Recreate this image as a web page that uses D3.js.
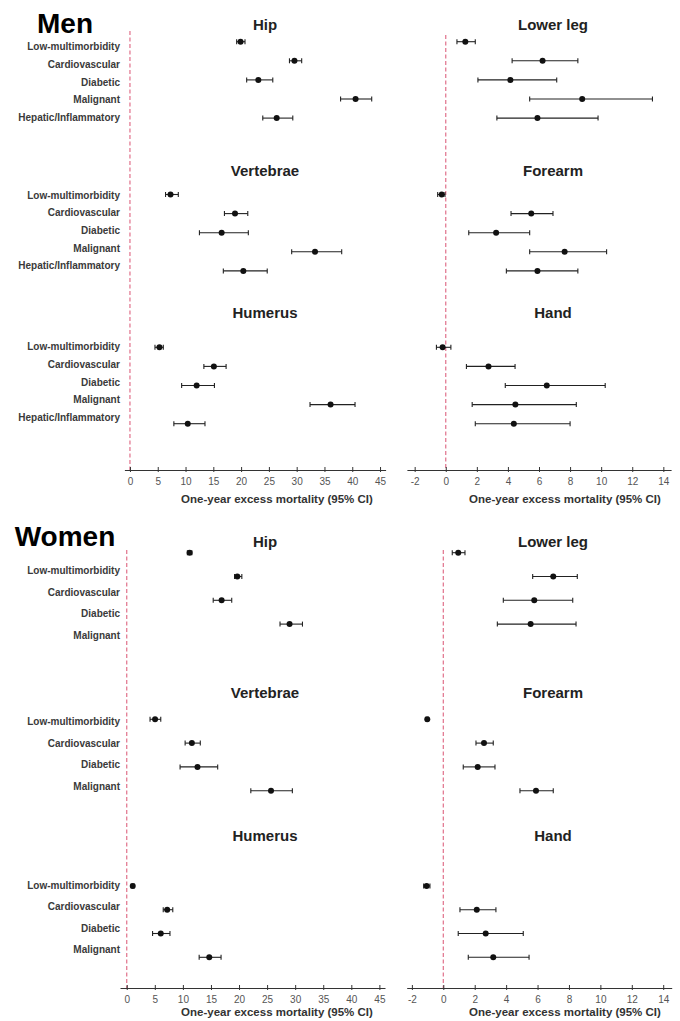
<!DOCTYPE html>
<html lang="en">
<head>
  <meta charset="UTF-8">
  <title>One-year excess mortality by fracture site and multimorbidity cluster</title>
  <script src="https://d3js.org/d3.v7.min.js"></script>
  <style>
    body {
      margin: 0;
      background: #fff;
      font-family: "Liberation Sans", Arial, sans-serif;
    }

    .sex-title {
      font-size: 28px;
      font-weight: bold;
      fill: #000;
    }

    .site-title {
      font-size: 15px;
      font-weight: bold;
      fill: #222;
    }

    .row-label {
      font-size: 10px;
      font-weight: bold;
      fill: #3a3a3a;
    }

    .ci {
      stroke: #222;
      stroke-width: 1.1px;
    }

    .ref {
      stroke: #e0708a;
      stroke-width: 1.2px;
      stroke-dasharray: 4 2.5;
    }

    .axis-title {
      font-size: 11.5px;
      font-weight: bold;
      fill: #333;
    }
  </style>
</head>
<body>
  <div id="chart"></div>

  <script>
    // each row: [estimate, lower 95% CI, upper 95% CI]
    const menGroups = ["Low-multimorbidity", "Cardiovascular", "Diabetic", "Malignant", "Hepatic/Inflammatory"];
    const womenGroups = ["Low-multimorbidity", "Cardiovascular", "Diabetic", "Malignant"];

    const leftSites = ["Hip", "Vertebrae", "Humerus"];
    const rightSites = ["Lower leg", "Forearm", "Hand"];

    const leftTicks = [0, 5, 10, 15, 20, 25, 30, 35, 40, 45];
    const rightTicks = [-2, 0, 2, 4, 6, 8, 10, 12, 14];

    const menHip = [[19.9, 19.2, 20.7], [29.6, 28.7, 30.9], [23.1, 21.0, 25.7], [40.6, 37.9, 43.5], [26.4, 23.9, 29.3]];
    const menVertebrae = [[7.3, 6.4, 8.7], [18.9, 17.0, 21.2], [16.5, 12.5, 21.3], [33.3, 29.1, 38.1], [20.4, 16.8, 24.7]];
    const menHumerus = [[5.3, 4.5, 6.0], [15.1, 13.3, 17.3], [12.0, 9.3, 15.2], [36.1, 32.4, 40.5], [10.4, 7.9, 13.5]];
    const menLowerLeg = [[1.26, 0.72, 1.9], [6.23, 4.27, 8.5], [4.16, 2.07, 7.14], [8.78, 5.4, 13.3], [5.9, 3.29, 9.8]];
    const menForearm = [[-0.26, -0.52, -0.05], [5.5, 4.2, 6.9], [3.24, 1.48, 5.4], [7.65, 5.4, 10.35], [5.9, 3.9, 8.5]];
    const menHand = [[-0.2, -0.6, 0.33], [2.75, 1.33, 4.46], [6.5, 3.83, 10.26], [4.48, 1.7, 8.4], [4.38, 1.9, 8.0]];

    const womenHip = [[11.2, 10.8, 11.6], [19.7, 19.2, 20.5], [16.9, 15.4, 18.7], [29.0, 27.3, 31.3]];
    const womenVertebrae = [[5.05, 4.15, 6.06], [11.6, 10.4, 13.1], [12.6, 9.5, 16.2], [25.7, 22.1, 29.5]];
    const womenHumerus = [[1.07, 0.8, 1.3], [7.2, 6.5, 8.2], [6.06, 4.6, 7.7], [14.7, 12.9, 16.8]];
    const womenLowerLeg = [[0.95, 0.57, 1.38], [7.0, 5.69, 8.53], [5.79, 3.82, 8.24], [5.56, 3.44, 8.45]];
    const womenForearm = [[-1.02, -1.1, -0.95], [2.59, 2.08, 3.18], [2.19, 1.27, 3.29], [5.9, 4.88, 7.0]];
    const womenHand = [[-1.06, -1.25, -0.85], [2.13, 1.06, 3.35], [2.7, 0.95, 5.09], [3.18, 1.59, 5.46]];

    const axisTitle = "One-year excess mortality (95% CI)";

    // layout of the two blocks
    const blocks = [
      {
        name: "Men", nameX: 65, nameY: 33,
        groups: menGroups, left: [menHip, menVertebrae, menHumerus], right: [menLowerLeg, menForearm, menHand],
        rowTop: 41.7, rowBottom: 423.7,
        titleY: [25, 171, 313],
        labelY: [46.7, 195, 346.7], labelStep: 17.7,
        dashTop: [31, 35], axisY: 470, axisTitleDy: 29,
        leftDomain: [-1, 46], leftRange: [124.4, 385.6],
        rightDomain: [-2.5, 14.5], rightRange: [406.9, 671.1]
      },
      {
        name: "Women", nameX: 65, nameY: 546,
        groups: womenGroups, left: [womenHip, womenVertebrae, womenHumerus], right: [womenLowerLeg, womenForearm, womenHand],
        rowTop: 552.7, rowBottom: 957.3,
        titleY: [541.7, 692.7, 836],
        labelY: [570.7, 721.7, 885], labelStep: 21.6,
        dashTop: [550, 550], axisY: 988, axisTitleDy: 24,
        leftDomain: [-1.2, 46], leftRange: [120, 385],
        rightDomain: [-2.33, 14.54], rightRange: [406.7, 671.7]
      }
    ];

    const svg = d3.select("#chart")
      .append("svg")
      .attr("width", 680)
      .attr("height", 1021);

    function drawColumn(g, b, sites, series, x, ticks, titleX, dashTop, withLabels) {
      const slots = b.groups.length + 3;
      const lastSlot = slots * 2 + b.groups.length - 1;
      const y = d3.scaleLinear()
        .domain([0, lastSlot])
        .range([b.rowTop, b.rowBottom]);

      // reference line at zero
      g.append("line")
        .attr("class", "ref")
        .attr("x1", x(0))
        .attr("x2", x(0))
        .attr("y1", dashTop)
        .attr("y2", b.axisY);

      sites.forEach((site, si) => {
        g.append("text")
          .attr("class", "site-title")
          .attr("x", titleX)
          .attr("y", b.titleY[si])
          .attr("dy", "0.35em")
          .attr("text-anchor", "middle")
          .text(site);

        const rows = series[si].map((d, i) => ({
          group: b.groups[i], est: d[0], lo: d[1], hi: d[2], slot: si * slots + i, i: i
        }));

        if (withLabels) {
          g.selectAll(null)
            .data(rows)
            .join("text")
            .attr("class", "row-label")
            .attr("x", 120)
            .attr("y", d => b.labelY[si] + d.i * b.labelStep)
            .attr("dy", "0.35em")
            .attr("text-anchor", "end")
            .text(d => d.group);
        }

        const row = g.selectAll(null)
          .data(rows)
          .join("g")
          .attr("transform", d => `translate(0,${y(d.slot)})`);

        row.append("line")
          .attr("class", "ci")
          .attr("x1", d => x(d.lo))
          .attr("x2", d => x(d.hi));

        row.append("line")
          .attr("class", "ci")
          .attr("x1", d => x(d.lo))
          .attr("x2", d => x(d.lo))
          .attr("y1", -2.5)
          .attr("y2", 2.5);

        row.append("line")
          .attr("class", "ci")
          .attr("x1", d => x(d.hi))
          .attr("x2", d => x(d.hi))
          .attr("y1", -2.5)
          .attr("y2", 2.5);

        row.append("circle")
          .attr("cx", d => x(d.est))
          .attr("r", 3)
          .attr("fill", "#111");
      });

      // axis
      const ax = g.append("g")
        .attr("transform", `translate(0,${b.axisY})`)
        .call(d3.axisBottom(x)
          .tickValues(ticks)
          .tickFormat(d => String(d))
          .tickSize(3)
          .tickSizeOuter(0)
          .tickPadding(5));

      ax.select(".domain").attr("stroke", "#333").attr("stroke-width", 1.2);
      ax.selectAll(".tick line").attr("y1", -3).attr("y2", 2).attr("stroke", "#333");
      ax.selectAll(".tick text")
        .attr("fill", "#555")
        .attr("font-size", 10)
        .attr("font-family", "'Liberation Sans', Arial, sans-serif");

      g.append("text")
        .attr("class", "axis-title")
        .attr("x", titleX + 12)
        .attr("y", b.axisY + b.axisTitleDy)
        .attr("dy", "0.35em")
        .attr("text-anchor", "middle")
        .text(axisTitle);
    }

    blocks.forEach(b => {
      const g = svg.append("g");

      g.append("text")
        .attr("class", "sex-title")
        .attr("x", b.nameX)
        .attr("y", b.nameY)
        .attr("text-anchor", "middle")
        .text(b.name);

      const xL = d3.scaleLinear().domain(b.leftDomain).range(b.leftRange);
      const xR = d3.scaleLinear().domain(b.rightDomain).range(b.rightRange);

      drawColumn(g, b, leftSites, b.left, xL, leftTicks, 265, b.dashTop[0], true);
      drawColumn(g, b, rightSites, b.right, xR, rightTicks, 553, b.dashTop[1], false);
    });
  </script>
</body>
</html>
